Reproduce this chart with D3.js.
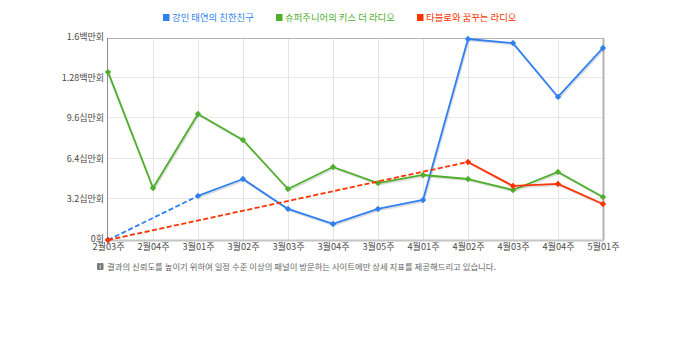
<!DOCTYPE html>
<html>
<head>
<meta charset="utf-8">
<script src="https://cdnjs.cloudflare.com/ajax/libs/d3/7.8.5/d3.min.js"></script>
<style>
  html, body { margin: 0; padding: 0; background: #fff; }
  text { font-family: "Noto Sans CJK KR", "Noto Sans", sans-serif; }
</style>
</head>
<body>
<div id="chart"></div>
<script>
var weeks = ["2월03주", "2월04주", "3월01주", "3월02주", "3월03주", "3월04주", "3월05주", "4월01주", "4월02주", "4월03주", "4월04주", "5월01주"];
var tickValues = [0, 320000, 640000, 960000, 1280000, 1600000];
var tickLabels = ["0회", "3.2십만회", "6.4십만회", "9.6십만회", "1.28백만회", "1.6백만회"];

// null = no data that week, the line is dashed across the gap
var blueValues = [0, null, 349000, 483000, 246000, 127000, 246000, 317000, 1592000, 1560000, 1133000, 1521000];
var greenValues = [1330000, 412000, 998000, 792000, 404000, 578000, 451000, 515000, 483000, 396000, 539000, 340000];
var redValues = [0, null, null, null, null, null, null, null, 618000, 428000, 444000, 285000];

var seriesNames = ["강인 태연의 친한친구", "슈퍼주니어의 키스 더 라디오", "타블로와 꿈꾸는 라디오"];
var seriesColors = ["#2f7ff0", "#4fae2c", "#ff3300"];
var seriesValues = [blueValues, greenValues, redValues];

var width = 680, height = 363;
var margin = {top: 38, right: 77, bottom: 123, left: 108};
var w = width - margin.left - margin.right,
    h = height - margin.top - margin.bottom;

var svg = d3.select("#chart").append("svg")
    .attr("width", width)
    .attr("height", height)
    .style("display", "block");

var x = d3.scalePoint().domain(weeks).range([0, w]);
var y = d3.scaleLinear().domain([0, 1600000]).range([h, 0]);

var g = svg.append("g")
    .attr("transform", "translate(" + margin.left + "," + margin.top + ")");

// grid
g.append("g").selectAll("line")
    .data(weeks.slice(1, -1))
    .enter().append("line")
    .attr("x1", function(d) { return x(d) + 0.5; })
    .attr("x2", function(d) { return x(d) + 0.5; })
    .attr("y1", 0)
    .attr("y2", h)
    .attr("stroke", "#e4e4e4");

g.append("g").selectAll("line")
    .data(tickValues.slice(1, -1))
    .enter().append("line")
    .attr("x1", 0)
    .attr("x2", w)
    .attr("y1", function(d) { return Math.floor(y(d)) - 0.5; })
    .attr("y2", function(d) { return Math.floor(y(d)) - 0.5; })
    .attr("stroke", "#e8e8e8");

// frame
g.append("line").attr("x1", 0).attr("x2", w).attr("y1", 0.5).attr("y2", 0.5).attr("stroke", "#b4b4b4");
g.append("line").attr("x1", w + 0.5).attr("x2", w + 0.5).attr("y1", 0).attr("y2", h).attr("stroke", "#b4b4b4").attr("stroke-width", 2);
g.append("line").attr("x1", 0).attr("x2", w + 1).attr("y1", h + 0.5).attr("y2", h + 0.5).attr("stroke", "#c4c4c4").attr("stroke-width", 2);
g.append("line").attr("x1", -0.5).attr("x2", -0.5).attr("y1", 0).attr("y2", h).attr("stroke", "#8c8c8c");

// axes
var yAxis = d3.axisLeft(y)
    .tickValues(tickValues)
    .tickSize(0)
    .tickPadding(4)
    .tickFormat(function(d, i) { return tickLabels[i]; });

var xAxis = d3.axisBottom(x).tickSize(0).tickPadding(3);

g.append("g").call(yAxis)
    .call(function(a) { a.select(".domain").remove(); })
    .selectAll("text")
    .attr("font-size", 9)
    .attr("y", -1)
    .attr("fill", "#4a4a4a");

g.append("g")
    .attr("transform", "translate(0," + h + ")")
    .call(xAxis)
    .call(function(a) { a.select(".domain").remove(); })
    .selectAll("text")
    .attr("font-size", 9.2)
    .attr("fill", "#4a4a4a");

var line = d3.line()
    .defined(function(d) { return d.value !== null; })
    .x(function(d) { return x(d.week); })
    .y(function(d) { return y(d.value); });

seriesValues.forEach(function(values, i) {
    var data = values.map(function(v, j) { return {week: weeks[j], value: v}; });
    var known = data.filter(function(d) { return d.value !== null; });

    // segments next to a gap are drawn dashed
    var pairs = d3.pairs(known);
    var s = g.append("g");

    // soft shadow under the solid parts
    s.append("path")
        .attr("d", line(data))
        .attr("transform", "translate(1,1.5)")
        .attr("fill", "none")
        .attr("stroke", "#000")
        .attr("stroke-opacity", 0.14)
        .attr("stroke-width", 1.6);

    pairs.forEach(function(p) {
        var gap = weeks.indexOf(p[1].week) - weeks.indexOf(p[0].week) > 1;
        s.append("path")
            .attr("d", line(p))
            .attr("fill", "none")
            .attr("stroke", seriesColors[i])
            .attr("stroke-width", 1.8)
            .attr("stroke-dasharray", gap ? "5,2.5" : null);
    });

    // markers: small squares turned on their corner
    s.selectAll("path.dot")
        .data(known)
        .enter().append("path")
        .attr("class", "dot")
        .attr("d", d3.symbol().type(d3.symbolSquare).size(20))
        .attr("transform", function(d) { return "translate(" + x(d.week) + "," + y(d.value) + ")rotate(45)"; })
        .attr("fill", seriesColors[i]);
});

// legend
var legendX = [163, 276, 417];
var legend = svg.append("g").selectAll("g")
    .data(seriesNames)
    .enter().append("g")
    .attr("transform", function(d, i) { return "translate(" + legendX[i] + ",14)"; });

legend.append("rect")
    .attr("width", 6.5)
    .attr("height", 7)
    .attr("fill", function(d, i) { return seriesColors[i]; });

legend.append("text")
    .attr("x", 9)
    .attr("y", 7)
    .attr("font-size", 9.4)
    .attr("fill", function(d, i) { return seriesColors[i]; })
    .text(function(d) { return d; });

// note under the chart
svg.append("rect")
    .attr("x", 97).attr("y", 263)
    .attr("width", 6.5).attr("height", 7)
    .attr("rx", 1)
    .attr("fill", "#777");
svg.append("text")
    .attr("x", 100.2).attr("y", 269)
    .attr("text-anchor", "middle")
    .attr("font-size", 6.5)
    .attr("fill", "#fff")
    .text("i");
svg.append("text")
    .attr("x", 107).attr("y", 270)
    .attr("font-size", 8.4)
    .attr("fill", "#666")
    .text("결과의 신뢰도를 높이기 위하여 일정 수준 이상의 패널이 방문하는 사이트에만 상세 지표를 제공해드리고 있습니다.");
</script>
</body>
</html>
